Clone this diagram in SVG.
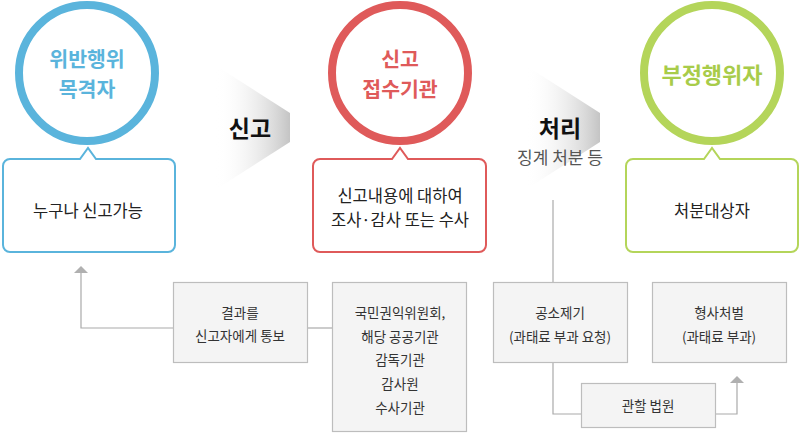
<svg xmlns="http://www.w3.org/2000/svg" width="800" height="433" viewBox="0 0 800 433">
<style>
text{font-family:"Noto Sans CJK KR","Noto Sans",sans-serif;text-anchor:middle;dominant-baseline:central}
.ring{fill:#fff;stroke-width:8}
.ct{font-size:20.5px;font-weight:bold}
.call{fill:#fff;stroke-width:2}
.clt{font-size:16.5px;fill:#222}
.box{fill:#f4f4f4;stroke:#bdbdbd;stroke-width:1.2}
.bt{font-size:13.5px;fill:#333}
.conn{fill:none;stroke:#aaa;stroke-width:1.2}
.arr{fill:#b0b0b0}
.chev{fill:url(#cg)}
.ch{font-size:23px;font-weight:bold;fill:#111}
</style>
<defs>
<linearGradient id="cg" x1="0" y1="0" x2="1" y2="0">
<stop offset="0" stop-color="#ffffff" stop-opacity="0"/>
<stop offset="1" stop-color="#c4c4c4"/>
</linearGradient>
</defs>
<g id="chevron1"><polygon class="chev" points="215,65 290,113 290,142 215,190"/><text class="ch" x="250" y="127">신고</text></g>
<g id="chevron2"><polygon class="chev" points="525,65 600,113 600,142 525,190"/><text class="ch" x="560" y="127">처리</text><text x="560" y="156" style="font-size:17px;fill:#555">징계 처분 등</text></g>
<g id="connectors">
<path class="conn" d="M332,328 H308"/>
<path class="conn" d="M173,328 H81 V272"/>
<polygon class="arr" points="81,266 74,273 88,273"/>
<path class="conn" d="M553,200 V282"/>
<path class="conn" d="M553,363 V414 H581"/>
<path class="conn" d="M716,414 H737 V382"/>
<polygon class="arr" points="737,376 730,383 744,383"/>
</g>
<g id="witness">
<circle class="ring" cx="87" cy="73" r="68" stroke="#5ab4dc"/>
<text class="ct" x="87" y="58" fill="#5ab4dc">위반행위</text>
<text class="ct" x="87" y="88" fill="#5ab4dc">목격자</text>
<path class="call" stroke="#5ab4dc" d="M10,159 H80 L88,148 L96,159 H168 A7,7 0 0 1 175,166 V245 A7,7 0 0 1 168,252 H10 A7,7 0 0 1 3,245 V166 A7,7 0 0 1 10,159 Z"/>
<text class="clt" x="88" y="210">누구나 신고가능</text>
</g>
<g id="agency">
<circle class="ring" cx="400" cy="73" r="68" stroke="#df5a5a"/>
<text class="ct" x="400" y="58" fill="#df5a5a">신고</text>
<text class="ct" x="400" y="88" fill="#df5a5a">접수기관</text>
<path class="call" stroke="#df5a5a" d="M320,159 H392 L400,148 L408,159 H479 A7,7 0 0 1 486,166 V245 A7,7 0 0 1 479,252 H320 A7,7 0 0 1 313,245 V166 A7,7 0 0 1 320,159 Z"/>
<text class="clt" x="400" y="195">신고내용에 대하여</text>
<text class="clt" x="400" y="219">조사·감사 또는 수사</text>
</g>
<g id="offender">
<circle class="ring" cx="712" cy="73" r="68" stroke="#b4d55a"/>
<text class="ct" x="712" y="73" fill="#a8cc4a" style="font-size:22px">부정행위자</text>
<path class="call" stroke="#b4d55a" d="M633,159 H704 L712,148 L720,159 H791 A7,7 0 0 1 798,166 V245 A7,7 0 0 1 791,252 H633 A7,7 0 0 1 626,245 V166 A7,7 0 0 1 633,159 Z"/>
<text class="clt" x="712" y="210">처분대상자</text>
</g>
<g id="notify"><rect class="box" x="173.5" y="282.5" width="134" height="80"/><text class="bt" x="240" y="312">결과를</text><text class="bt" x="240" y="335">신고자에게 통보</text></g>
<g id="orgs"><rect class="box" x="332.5" y="282.5" width="134" height="149"/>
<text class="bt" x="400" y="312">국민권익위원회,</text><text class="bt" x="400" y="336">해당 공공기관</text><text class="bt" x="400" y="359">감독기관</text><text class="bt" x="400" y="383">감사원</text><text class="bt" x="400" y="407">수사기관</text></g>
<g id="prosecution"><rect class="box" x="493.5" y="282.5" width="134" height="80"/><text class="bt" x="560" y="312">공소제기</text><text class="bt" x="560" y="336">(과태료 부과 요청)</text></g>
<g id="punish"><rect class="box" x="652.5" y="282.5" width="134" height="80"/><text class="bt" x="719" y="312">형사처벌</text><text class="bt" x="719" y="336">(과태료 부과)</text></g>
<g id="court"><rect class="box" x="581.5" y="383.5" width="134" height="44"/><text class="bt" x="648" y="405">관할 법원</text></g>
</svg>
